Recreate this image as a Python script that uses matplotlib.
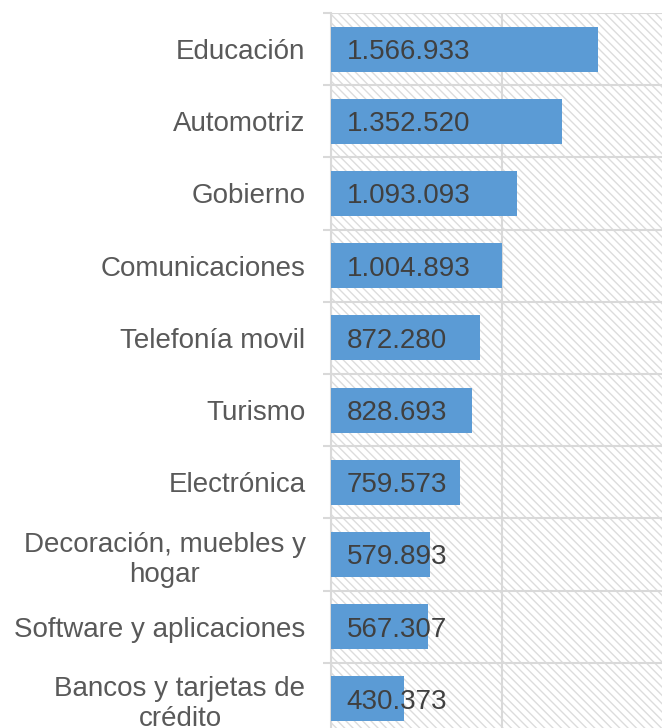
import matplotlib
matplotlib.use("Agg")
import matplotlib.pyplot as plt
from matplotlib.patches import Rectangle
import numpy as np

categories = [
    "Educación",
    "Automotriz",
    "Gobierno",
    "Comunicaciones",
    "Telefonía movil",
    "Turismo",
    "Electrónica",
    "Decoración, muebles y\nhogar",
    "Software y aplicaciones",
    "Bancos y tarjetas de\ncrédito",
]
values = [1566933, 1352520, 1093093, 1004893, 872280, 828693, 759573, 579893, 567307, 430373]
value_labels = ["1.566.933", "1.352.520", "1.093.093", "1.004.893", "872.280",
                "828.693", "759.573", "579.893", "567.307", "430.373"]

plt.rcParams["font.family"] = ["Liberation Sans", "DejaVu Sans"]
plt.rcParams["hatch.linewidth"] = 1.0
plt.rcParams["hatch.color"] = "#dcdcdc"

W, H = 662, 728
dpi = 100
fig = plt.figure(figsize=(W / dpi, H / dpi), dpi=dpi)
fig.patch.set_facecolor("white")

left_px, top_px, bottom_px = 330.5, 13, 735
ax = fig.add_axes([left_px / W, (H - bottom_px) / H, 1 - left_px / W, (bottom_px - top_px) / H])

n = len(categories)
y = np.arange(n)

# hatched plot background
ax.set_facecolor("white")
ax.add_patch(Rectangle((0, 0), 1, 1, transform=ax.transAxes, facecolor="white",
                       edgecolor="#dcdcdc", hatch="\\\\\\\\", linewidth=0, zorder=0))

ax.barh(y, values, height=0.625, color="#5b9bd5", zorder=3)

for yi, lab in zip(y, value_labels):
    ax.annotate(lab, xy=(0, yi), xytext=(11.5, 0), textcoords="offset points",
                ha="left", va="center_baseline", fontsize=20, color="#404040", zorder=4)

# category labels on major ticks, boundaries on minor ticks
ax.set_yticks(y)
ax.set_yticklabels(categories, fontsize=20, color="#595959", linespacing=1.2,
                   multialignment="center")
ax.tick_params(axis="y", which="major", length=0, pad=18)
ax.set_yticks(np.arange(-0.5, n, 1.0), minor=True)
ax.tick_params(axis="y", which="minor", length=6, width=1.5, color="#d9d9d9")
ax.grid(axis="y", which="minor", color="#d9d9d9", linewidth=1.5, zorder=1)

ax.set_xticks([0, 1e6, 2e6])
ax.tick_params(axis="x", length=0, labelbottom=False)
ax.grid(axis="x", which="major", color="#d9d9d9", linewidth=1.5, zorder=1)

ax.set_ylim(n - 0.5, -0.5)
ax.set_xlim(0, (W - left_px) / 171.0 * 1e6)

for side in ["top", "right", "bottom"]:
    ax.spines[side].set_visible(False)
ax.spines["left"].set_color("#d9d9d9")
ax.spines["left"].set_linewidth(1.5)
ax.set_axisbelow(True)

fig.savefig("out.png", dpi=dpi)
